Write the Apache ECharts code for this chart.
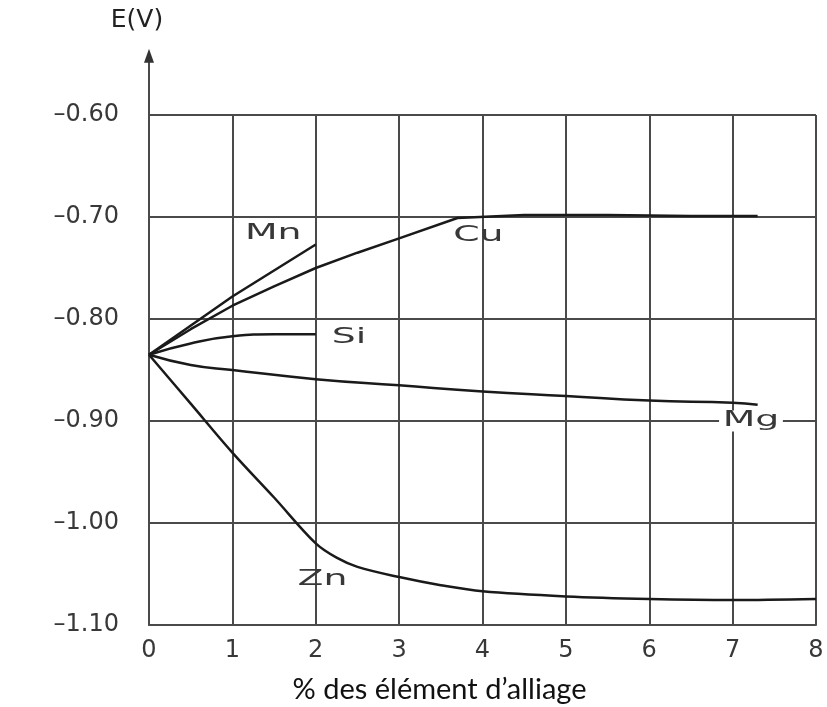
<!DOCTYPE html>
<html><head><meta charset="utf-8">
<script src="https://cdn.jsdelivr.net/npm/echarts@6/dist/echarts.min.js"></script>
<style>html,body{margin:0;padding:0;background:#fff}#c{width:827px;height:707px}</style>
</head><body><div id="c"></div>
<script>
// Tick labels
const xTickLabels = ['0','1','2','3','4','5','6','7','8'];
const yTickLabels = ['–1.10','–1.00','–0.90','–0.80','–0.70','–0.60'];
const yAxisTitle = 'E(V)';
const xAxisTitle = '% des élément d’alliage';

// Series values (x = % alloying element, y = potential E in V)
const mnX = [0, 1, 2];
const mnY = [-0.835, -0.778, -0.727];
const cuX = [0, 0.5, 1, 1.5, 2, 2.5, 3, 3.7, 4.5, 5.5, 6.5, 7.3];
const cuY = [-0.835, -0.810, -0.787, -0.768, -0.750, -0.735, -0.721, -0.701, -0.698, -0.698, -0.699, -0.699];
const siX = [0, 0.5, 1, 1.5, 2];
const siY = [-0.835, -0.824, -0.817, -0.815, -0.815];
const mgX = [0, 0.5, 1, 2, 3, 4, 5, 6, 7, 7.3];
const mgY = [-0.835, -0.845, -0.850, -0.859, -0.865, -0.871, -0.8755, -0.880, -0.882, -0.884];
const znX = [0, 0.5, 1, 1.5, 2, 2.25, 2.5, 3, 3.5, 4, 5, 6, 7, 8];
const znY = [-0.835, -0.883, -0.931, -0.975, -1.020, -1.034, -1.043, -1.053, -1.061, -1.067, -1.072, -1.0745, -1.0755, -1.0745];

// Curve labels (name and anchor in data units)
const labelNames = ['Mn', 'Cu', 'Si', 'Mg', 'Zn'];
const labelX = [1.49, 3.95, 2.4, 7.22, 2.08];
const labelY = [-0.716, -0.718, -0.818, -0.900, -1.055];

const zip = (xs, ys) => xs.map((x, i) => [x, ys[i]]);
const gridColor = '#4a4a4a';
const textColor = '#383838';
const curveStyle = { color: '#1a1a1a', width: 2.5 };

const chart = echarts.init(document.getElementById('c'), null, { renderer: 'canvas' });
const mkLine = (name, xs, ys, smooth) => ({
  name, type: 'line', data: zip(xs, ys), showSymbol: false, symbol: 'none',
  smooth: smooth, lineStyle: curveStyle, z: 3, silent: true
});

chart.setOption({
  animation: false,
  backgroundColor: '#fff',
  grid: { left: 149, right: 11, top: 115, bottom: 82, containLabel: false, outerBoundsMode: 'none' },
  xAxis: {
    type: 'value', min: 0, max: 8, interval: 1,
    axisLine: { show: true, onZero: false, lineStyle: { color: gridColor, width: 2 } },
    axisTick: { show: false },
    splitLine: { show: true, lineStyle: { color: gridColor, width: 2 } },
    axisLabel: { margin: 14, color: textColor, fontSize: 24, fontFamily: 'DejaVu Sans',
      formatter: (v) => xTickLabels[Math.round(v)] },
    name: xAxisTitle, nameLocation: 'middle', nameGap: 50,
    nameTextStyle: { color: '#111', fontSize: 29, fontFamily: 'Lato', padding: [0, 86, 0, 0] }
  },
  yAxis: {
    type: 'value', min: -1.1, max: -0.6, interval: 0.1,
    axisLine: { show: true, onZero: false, lineStyle: { color: gridColor, width: 2 } },
    axisTick: { show: false },
    splitLine: { show: true, lineStyle: { color: gridColor, width: 2 } },
    axisLabel: { margin: 30, color: textColor, fontSize: 24, fontFamily: 'DejaVu Sans',
      formatter: (v, i) => yTickLabels[Math.round((v + 1.1) / 0.1)] },
    name: yAxisTitle, nameLocation: 'end', nameGap: 82,
    nameTextStyle: { color: '#222', fontSize: 25, fontFamily: 'DejaVu Sans', align: 'center',
      verticalAlign: 'bottom', padding: [0, 24, 0, 0] }
  },
  series: [
    mkLine('Mn', mnX, mnY, false),
    mkLine('Cu', cuX, cuY, false),
    mkLine('Si', siX, siY, true),
    mkLine('Mg', mgX, mgY, true),
    mkLine('Zn', znX, znY, 0.35),
    {
      name: 'labels', type: 'custom', z: 5, silent: true, clip: false,
      data: labelNames.map((n, i) => [labelX[i], labelY[i]]),
      renderItem: (params, api) => {
        const p = api.coord([api.value(0), api.value(1)]);
        const n = labelNames[params.dataIndex];
        return {
          type: 'text', x: p[0], y: p[1], scaleX: 1.8, z2: 10,
          style: {
            text: n, fill: textColor, font: '21px "DejaVu Sans", sans-serif',
            align: 'center', verticalAlign: 'middle',
            backgroundColor: n === 'Mg' ? '#fff' : null, padding: n === 'Mg' ? [0, 2] : 0
          }
        };
      }
    }
  ]
});

// Y axis arrow extension above the plot area, positioned via the axis scale
const pTop = chart.convertToPixel({ gridIndex: 0 }, [0, -0.6]);
const pTip = chart.convertToPixel({ gridIndex: 0 }, [0, -0.535]);
chart.setOption({
  graphic: [
    { type: 'line', shape: { x1: pTop[0], y1: pTop[1], x2: pTip[0], y2: pTip[1] + 8 },
      style: { stroke: gridColor, lineWidth: 2 }, z: 10 },
    { type: 'polygon', shape: { points: [[pTip[0], pTip[1]], [pTip[0] - 5, pTip[1] + 14], [pTip[0] + 5, pTip[1] + 14]] },
      style: { fill: '#333' }, z: 10 }
  ]
});
</script></body></html>
